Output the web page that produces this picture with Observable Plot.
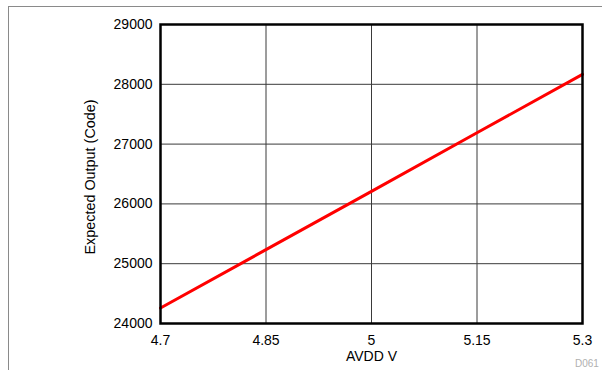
<!DOCTYPE html>
<html>
<head>
<meta charset="utf-8">
<script src="https://cdn.jsdelivr.net/npm/d3@7"></script>
<script src="https://cdn.jsdelivr.net/npm/@observablehq/plot@0.6"></script>
<style>
  body { margin: 0; background: #fff; }
  #wrap { position: relative; width: 602px; height: 370px; overflow: hidden; font-family: "Liberation Sans", Arial, sans-serif; }
  #border { position: absolute; left: 8px; top: 6px; width: 700px; height: 500px; border-left: 1.5px solid #8a8a8a; border-top: 1.5px solid #8a8a8a; }
  #chart { position: absolute; left: 0; top: 0; }
  #code { position: absolute; left: 575px; top: 358px; font-size: 10px; color: #b0b0b0; white-space: nowrap; }
</style>
</head>
<body>
<div id="wrap">
  <div id="border"></div>
  <div id="chart"></div>
  <div id="code">D061</div>
</div>
<script>
const avdd = [4.7, 4.85, 5.0, 5.15, 5.3];
const expectedOutput = [24260, 25235, 26210, 27190, 28165];
const xTicks = [4.7, 4.85, 5, 5.15, 5.3];
const yTicks = [24000, 25000, 26000, 27000, 28000, 29000];
const xLabel = "AVDD V";
const yLabel = "Expected Output (Code)";

const data = avdd.map((v, i) => ({x: v, y: expectedOutput[i]}));

const chart = Plot.plot({
  width: 602,
  height: 370,
  marginLeft: 160,
  marginRight: 20,
  marginTop: 24,
  marginBottom: 47,
  style: {fontFamily: "'Liberation Sans', Arial, sans-serif", fontSize: "14px", background: "transparent", color: "#000"},
  x: {domain: [4.7, 5.3]},
  y: {domain: [24000, 29000]},
  marks: [
    Plot.ruleX(xTicks, {stroke: "#3a3a3a", strokeWidth: 1}),
    Plot.ruleY(yTicks, {stroke: "#3a3a3a", strokeWidth: 1}),
    Plot.axisX(xTicks, {tickSize: 0, tickPadding: 12, label: null, tickFormat: d => String(d), fontSize: 14}),
    Plot.axisY(yTicks, {tickSize: 0, tickPadding: 8, label: null, tickFormat: d => String(d), fontSize: 14}),
    Plot.text([xLabel], {frameAnchor: "bottom", dy: 28, text: d => d, fontSize: 14, lineAnchor: "top"}),
    Plot.text([yLabel], {frameAnchor: "left", dx: -70, dy: 3, rotate: -90, textAnchor: "middle", text: d => d, fontSize: 14.4}),
    Plot.line(data, {x: "x", y: "y", stroke: "#ff0000", strokeWidth: 3}),
    Plot.frame({stroke: "#000", strokeWidth: 2.5})
  ]
});
document.getElementById("chart").appendChild(chart);
</script>
</body>
</html>
